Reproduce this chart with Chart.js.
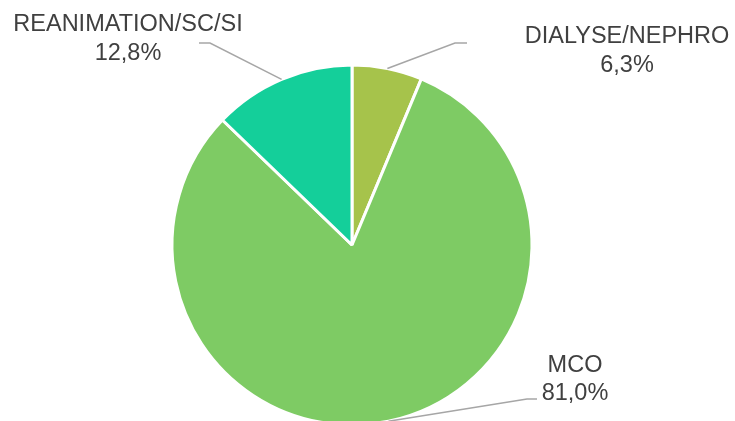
<!DOCTYPE html>
<html>
<head>
<meta charset="utf-8">
<script src="https://cdn.jsdelivr.net/npm/chart.js"></script>
<style>
  html, body { margin: 0; padding: 0; background: #fff; }
  #wrap { width: 735px; height: 421px; overflow: hidden; position: relative; }
  #chart { display: block; }
</style>
</head>
<body>
<div id="wrap"><canvas id="chart" width="735" height="440"></canvas></div>
<script>
const categories = ['DIALYSE/NEPHRO', 'MCO', 'REANIMATION/SC/SI'];
const shares = [6.3, 81.0, 12.8];
const percentLabels = ['6,3%', '81,0%', '12,8%'];
const sliceColors = ['#a6c34b', '#7ecb64', '#14cf9a'];

// where each label sits: text centre x, baselines of the two lines, elbow of the leader line
const labelLayout = [
    { x: 627, y1: 43, y2: 72, elbow: [455, 43], end: [467, 43] },
    { x: 575, y1: 372, y2: 400, elbow: [527, 399], end: [537, 399] },
    { x: 128, y1: 31, y2: 60, elbow: [210, 43], end: [199, 43] }
];

const pieLabels = {
    id: 'pieLabels',
    afterDraw(chart) {
        const ctx = chart.ctx;
        const arcs = chart.getDatasetMeta(0).data;
        ctx.save();
        arcs.forEach(function (arc, i) {
            const lay = labelLayout[i];
            const mid = (arc.startAngle + arc.endAngle) / 2;
            const ax = arc.x + Math.cos(mid) * arc.outerRadius;
            const ay = arc.y + Math.sin(mid) * arc.outerRadius;
            ctx.strokeStyle = '#a6a6a6';
            ctx.lineWidth = 1.5;
            ctx.beginPath();
            ctx.moveTo(ax, ay);
            ctx.lineTo(lay.elbow[0], lay.elbow[1]);
            ctx.lineTo(lay.end[0], lay.end[1]);
            ctx.stroke();

            ctx.fillStyle = '#404040';
            ctx.font = '23.5px "Liberation Sans", Arial, sans-serif';
            ctx.textAlign = 'center';
            ctx.textBaseline = 'alphabetic';
            ctx.fillText(categories[i], lay.x, lay.y1);
            ctx.fillText(percentLabels[i], lay.x, lay.y2);
        });
        ctx.restore();
    }
};

new Chart(document.getElementById('chart'), {
    type: 'pie',
    data: {
        labels: categories,
        datasets: [{
            data: shares,
            backgroundColor: sliceColors,
            borderColor: '#ffffff',
            borderWidth: 3
        }]
    },
    options: {
        responsive: false,
        animation: false,
        devicePixelRatio: 1,
        radius: 180,
        layout: { padding: { top: 65, bottom: 15, left: 0, right: 31 } },
        plugins: {
            legend: { display: false },
            tooltip: { enabled: false }
        }
    },
    plugins: [pieLabels]
});
</script>
</body>
</html>
